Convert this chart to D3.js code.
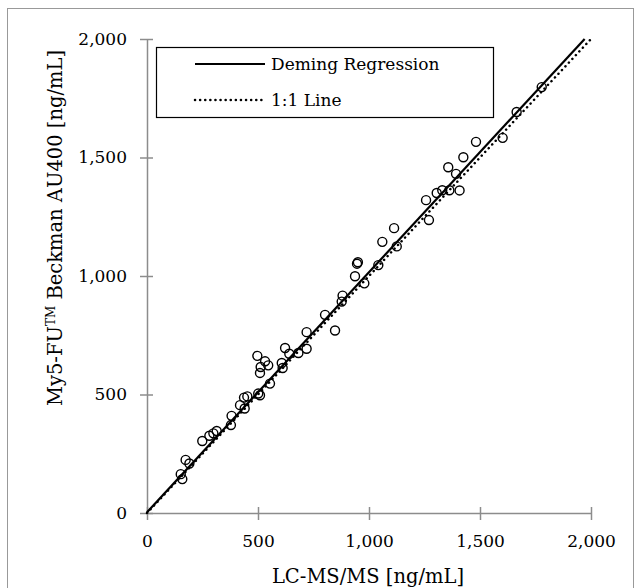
<!DOCTYPE html>
<html>
<head>
<meta charset="utf-8">
<script src="https://cdn.jsdelivr.net/npm/d3@7"></script>
<style>
  body { margin: 0; background: #fff; }
  text { font-family: "DejaVu Serif", serif; fill: #000; }
</style>
</head>
<body>
<div class="container"></div>
<script>
(function(){

// LC-MS/MS (x) vs My5-FU Beckman AU400 (y), ng/mL
var lcms = [152, 159, 174, 191, 249, 281, 299, 314, 378, 381, 419, 440, 437, 452, 501, 509, 554,
            497, 509, 512, 532, 546, 607, 611, 622, 641, 682, 719, 719, 802, 847, 877, 881,
            937, 946, 950, 979, 1042, 1060, 1113, 1125, 1270, 1257, 1305, 1330, 1362, 1408,
            1357, 1392, 1425, 1482, 1602, 1665, 1778];
var au400 = [164, 143, 224, 209, 304, 326, 336, 346, 371, 410, 455, 441, 487, 492, 504, 497, 546,
             663, 591, 616, 640, 623, 633, 612, 696, 672, 675, 693, 763, 836, 770, 892, 917,
             999, 1052, 1058, 969, 1046, 1144, 1202, 1125, 1236, 1320, 1350, 1362, 1362, 1361,
             1459, 1431, 1501, 1566, 1583, 1692, 1797];

var xTicks = [0, 500, 1000, 1500, 2000];
var yTicks = [0, 500, 1000, 1500, 2000];

// deming fit and the identity line
var demingSlope = 1.013,
    demingIntercept = 3;
var legendLabels = ["Deming Regression", "1:1 Line"];

var width = 640,
    height = 588;

var x = d3.scaleLinear().domain([0, 2000]).range([147, 591]);
var y = d3.scaleLinear().domain([0, 2000]).range([513, 39]);

var svg = d3.select(".container")
  .append("svg")
  .attr("width", width)
  .attr("height", height);

// outer frame
svg.append("rect")
  .attr("x", 7.5)
  .attr("y", 8.5)
  .attr("width", 626)
  .attr("height", 590)
  .attr("fill", "none")
  .attr("stroke", "#999")
  .attr("stroke-width", 1);

// axes with ticks crossing the line
var xAxis = svg.append("g")
  .attr("transform", "translate(0," + y(0) + ")")
  .call(d3.axisBottom(x).tickValues(xTicks).tickSizeInner(7).tickSizeOuter(0)
    .tickFormat(d3.format(",")));
xAxis.selectAll(".tick line").attr("y1", -6);
xAxis.selectAll(".tick text").attr("dy", null).attr("y", 34);

var yAxis = svg.append("g")
  .attr("transform", "translate(" + x(0) + ",0)")
  .call(d3.axisLeft(y).tickValues(yTicks).tickSizeInner(7).tickSizeOuter(0)
    .tickFormat(d3.format(",")));
yAxis.selectAll(".tick line").attr("x1", 6);
yAxis.selectAll(".tick text").attr("x", -20);

svg.selectAll(".domain, .tick line")
  .attr("stroke", "#8c8c8c")
  .attr("stroke-width", 1.5);
svg.selectAll(".tick text")
  .style("font-family", "DejaVu Serif")
  .style("font-size", "17px")
  .attr("fill", "#000");

// points
svg.append("g")
  .selectAll("circle")
  .data(lcms)
  .enter()
  .append("circle")
  .attr("cx", function(d){ return x(d); })
  .attr("cy", function(d, i){ return y(au400[i]); })
  .attr("r", 4.5)
  .attr("fill", "none")
  .attr("stroke", "#000")
  .attr("stroke-width", 1.4);

// 1:1 line
svg.append("line")
  .attr("x1", x(0)).attr("y1", y(0))
  .attr("x2", x(2000)).attr("y2", y(2000))
  .attr("stroke", "#000")
  .attr("stroke-width", 2.5)
  .attr("stroke-dasharray", "0.1 5")
  .attr("stroke-linecap", "round");

// deming regression line
var demingEnd = (2000 - demingIntercept) / demingSlope;
svg.append("line")
  .attr("x1", x(0)).attr("y1", y(demingIntercept))
  .attr("x2", x(demingEnd)).attr("y2", y(2000))
  .attr("stroke", "#000")
  .attr("stroke-width", 2.2);

// legend
var legend = svg.append("g");
legend.append("rect")
  .attr("x", 156.5).attr("y", 47.5)
  .attr("width", 337).attr("height", 70)
  .attr("fill", "#fff")
  .attr("stroke", "#000")
  .attr("stroke-width", 1.2);
legend.append("line")
  .attr("x1", 195).attr("x2", 265).attr("y1", 64).attr("y2", 64)
  .attr("stroke", "#000").attr("stroke-width", 2.2);
legend.append("line")
  .attr("x1", 195).attr("x2", 265).attr("y1", 100).attr("y2", 100)
  .attr("stroke", "#000").attr("stroke-width", 2.5)
  .attr("stroke-dasharray", "0.1 5").attr("stroke-linecap", "round");
legend.selectAll(".legendText")
  .data(legendLabels)
  .enter()
  .append("text")
  .attr("class", "legendText")
  .attr("x", 271)
  .attr("y", function(d, i){ return 70 + i * 36; })
  .style("font-size", "17px")
  .text(function(d){ return d; });

// axis titles
svg.append("text")
  .attr("x", 368)
  .attr("y", 583)
  .attr("text-anchor", "middle")
  .style("font-size", "19.5px")
  .text("LC-MS/MS [ng/mL]");

var yTitle = svg.append("text")
  .attr("transform", "translate(62,228) rotate(-90)")
  .attr("text-anchor", "middle")
  .style("font-size", "19.5px");
yTitle.append("tspan").text("My5-FU");
yTitle.append("tspan").attr("dy", -7).style("font-size", "12px").text("TM");
yTitle.append("tspan").attr("dy", 7).text(" Beckman AU400 [ng/mL]");

})();
</script>
</body>
</html>
